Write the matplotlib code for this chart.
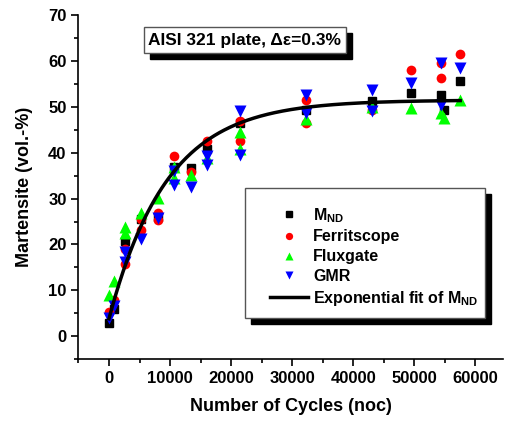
import matplotlib
matplotlib.use("Agg")
import matplotlib.pyplot as plt
import numpy as np
from matplotlib.patches import Rectangle
from matplotlib.ticker import MultipleLocator

plt.rcParams['font.family'] = ['Liberation Sans', 'DejaVu Sans']
plt.rcParams['font.weight'] = 'bold'
plt.rcParams['mathtext.fontset'] = 'custom'
plt.rcParams['mathtext.default'] = 'bf'
plt.rcParams['mathtext.bf'] = 'Liberation Sans:bold'
plt.rcParams['mathtext.rm'] = 'Liberation Sans:bold'

# M_ND (neutron diffraction)
mnd_x = [0, 900, 2700, 5300, 8100, 10700, 13500, 16100, 21400, 32200, 43000, 49500, 54300, 54900, 57400]
mnd_y = [2.8, 6.0, 20.7, 25.5, 26.0, 36.9, 36.6, 40.9, 46.5, 49.4, 51.3, 53.1, 52.6, 49.4, 55.6]

# Ferritscope
fer_x = [0, 900, 2700, 2700, 5300, 5300, 8100, 8100, 10700, 13500, 16100, 21400, 21400,
         32200, 32200, 43000, 49500, 54300, 54300, 57400]
fer_y = [5.2, 8.0, 19.0, 15.7, 25.6, 23.2, 26.8, 25.3, 39.2, 35.9, 42.5, 46.9, 42.5,
         51.5, 46.4, 49.4, 58.1, 59.6, 56.3, 61.6]

# Fluxgate
flx_x = [0, 900, 2700, 2700, 5300, 8100, 10700, 10700, 13500, 16100, 21400, 21400,
         32200, 43000, 49500, 54300, 54900, 57400]
flx_y = [8.9, 12.0, 23.8, 22.5, 26.9, 30.1, 37.0, 34.4, 35.1, 38.8, 44.5, 40.9,
         47.4, 50.0, 49.7, 48.7, 47.5, 51.5]

# GMR
gmr_x = [0, 900, 2700, 2700, 5300, 8100, 10700, 10700, 13500, 16100, 16100, 21400, 21400,
         32200, 32200, 43000, 43000, 49500, 54300, 54300, 57400]
gmr_y = [3.9, 6.5, 18.3, 16.2, 21.2, 25.7, 36.0, 32.9, 32.5, 39.2, 37.4, 49.1, 39.6,
         52.6, 48.6, 53.6, 49.1, 55.2, 59.5, 50.5, 58.5]

# exponential fit of M_ND: y = y0 + A * (1 - exp(-x / t))
fit_y0 = 3.8
fit_A = 47.7
fit_t = 9500
fit_xmax = 57500

fig = plt.figure(figsize=(5.06, 4.23), dpi=100)
ax = fig.add_axes([0.155, 0.151, 0.839, 0.813])

fx = np.linspace(0, fit_xmax, 300)
ax.plot(fx, fit_y0 + fit_A * (1 - np.exp(-fx / fit_t)), color='black', lw=2.5,
        label='Exponential fit of M$_{ND}$', zorder=5)

ax.plot(mnd_x, mnd_y, 's', color='black', ms=6, label='M$_{ND}$', zorder=3)
ax.plot(fer_x, fer_y, 'o', color='#ff0000', ms=7, mec='none', label='Ferritscope', zorder=3)
ax.plot(flx_x, flx_y, '^', color='#00ff00', ms=8, mec='none', label='Fluxgate', zorder=3)
ax.plot(gmr_x, gmr_y, 'v', color='#0000ff', ms=8, mec='none', label='GMR', zorder=3)

ax.set_xlim(-5000, 64500)
ax.set_ylim(-5, 70)
ax.xaxis.set_major_locator(MultipleLocator(10000))
ax.xaxis.set_minor_locator(MultipleLocator(5000))
ax.yaxis.set_major_locator(MultipleLocator(10))
ax.yaxis.set_minor_locator(MultipleLocator(5))
ax.tick_params(which='major', direction='out', length=5, width=1.2, labelsize=12)
ax.tick_params(which='minor', direction='out', length=3, width=1.2)
ax.spines['top'].set_visible(False)
ax.spines['right'].set_visible(False)
ax.spines['left'].set_linewidth(1.2)
ax.spines['bottom'].set_linewidth(1.2)
for lab in ax.get_xticklabels() + ax.get_yticklabels():
    lab.set_fontweight('bold')
ax.set_xlabel('Number of Cycles (noc)', fontsize=13, fontweight='bold', labelpad=9)
ax.set_ylabel('Martensite (vol.-%)', fontsize=13, fontweight='bold', labelpad=11)


def box(x0, y0, x1, y1, off):
    # pixel coords from top-left of the figure
    W, H = 506, 423
    fig.add_artist(Rectangle(((x0 + off) / W, 1 - (y1 + off) / H), (x1 - x0) / W, (y1 - y0) / H,
                             transform=fig.transFigure, fc='black', ec='black', zorder=6))
    fig.add_artist(Rectangle((x0 / W, 1 - y1 / H), (x1 - x0) / W, (y1 - y0) / H,
                             transform=fig.transFigure, fc='white', ec='#555555', lw=1, zorder=7))


# title box
box(144, 27, 346, 53, 6)
fig.text(245 / 506, 1 - 40 / 423, 'AISI 321 plate, \u0394\u03b5=0.3%', ha='center', va='center',
         fontsize=12.5, fontweight='bold', zorder=8)

# legend box
box(245, 188, 485, 318, 6)
handles, labels = ax.get_legend_handles_labels()
order = [1, 2, 3, 4, 0]
leg = fig.legend([handles[i] for i in order], [labels[i] for i in order],
                 loc='upper left', bbox_to_anchor=(262 / 506, 1 - 198 / 423),
                 frameon=False, prop={'weight': 'bold', 'size': 11.5},
                 handlelength=2.4, handletextpad=0.3, labelspacing=0.3,
                 markerscale=0.75, borderpad=0)
leg.set_zorder(9)

fig.savefig('out.png', dpi=100)
